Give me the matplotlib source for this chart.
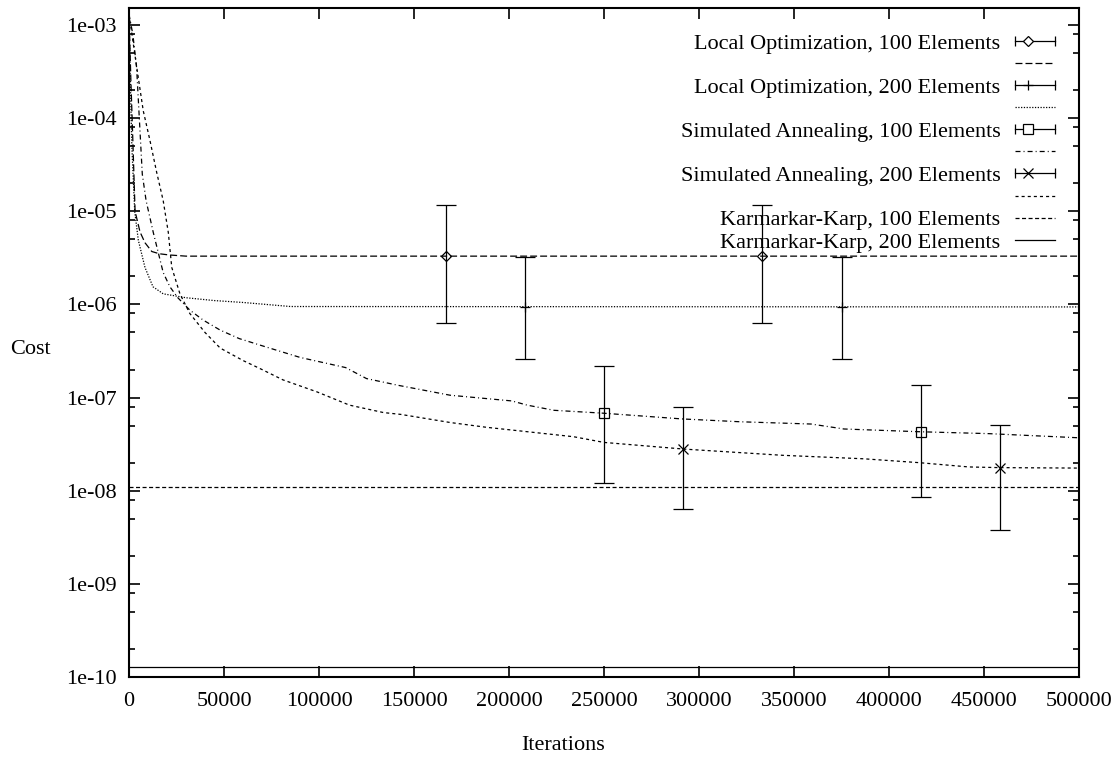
# Costo vs iterazioni (stile gnuplot), scala log sull'asse y
import matplotlib
matplotlib.use("Agg")
import matplotlib.pyplot as plt
from matplotlib.lines import Line2D
from matplotlib.legend_handler import HandlerBase
from matplotlib.ticker import LogLocator, FuncFormatter, NullFormatter

plt.rcParams['font.family'] = ['Liberation Serif', 'DejaVu Serif']
plt.rcParams['font.size'] = 16
plt.rcParams['lines.scale_dashes'] = False

# --- dati ---
lo100_it = [0, 1000, 1800, 3200, 5800, 8400, 12000, 16000, 21000, 30000, 500000]
lo100_cost = [1.3e-3, 2.5e-4, 8e-5, 1.0e-5, 6.0e-6, 4.6e-6, 3.7e-6, 3.5e-6, 3.4e-6, 3.3e-6, 3.3e-6]

lo200_it = [0, 600, 1500, 3000, 4900, 8400, 12600, 18000, 30000, 45000, 60000, 85000, 500000]
lo200_cost = [1.3e-3, 3e-4, 5e-5, 1e-5, 4.9e-6, 2.5e-6, 1.55e-6, 1.3e-6, 1.18e-6, 1.1e-6,
              1.05e-6, 9.5e-7, 9.4e-7]

sa100_it = [0, 2000, 4000, 7000, 9000, 12800, 18000, 21500, 25700, 32000, 39000, 48000,
            58000, 72000, 90000, 114000, 125000, 142000, 169000, 201600, 209500, 223700,
            249500, 291000, 321600, 359000, 376300, 415800, 452600, 500000]
sa100_cost = [1.3e-3, 8e-4, 3.5e-4, 2.5e-5, 1.3e-5, 5.9e-6, 2.2e-6, 1.55e-6, 1.18e-6, 8.7e-7,
              6.8e-7, 5.3e-7, 4.3e-7, 3.5e-7, 2.7e-7, 2.1e-7, 1.6e-7, 1.35e-7, 1.06e-7,
              9.2e-8, 8.3e-8, 7.3e-8, 6.8e-8, 5.9e-8, 5.5e-8, 5.2e-8, 4.6e-8, 4.3e-8,
              4.1e-8, 3.7e-8]

sa200_it = [0, 4000, 7500, 11000, 14600, 18000, 20700, 22500, 26800, 32000, 40000, 48000,
            60000, 70000, 81000, 99000, 116000, 134000, 143000, 169000, 188000, 234000,
            250000, 292000, 344000, 387000, 416000, 442000, 458000, 500000]
sa200_cost = [1.3e-3, 3.6e-4, 1.2e-4, 5.8e-5, 2.6e-5, 1.3e-5, 5.9e-6, 2.5e-6, 1.3e-6, 8e-7,
              5e-7, 3.4e-7, 2.5e-7, 2.0e-7, 1.55e-7, 1.15e-7, 8.3e-8, 6.9e-8, 6.6e-8,
              5.4e-8, 4.8e-8, 3.8e-8, 3.3e-8, 2.8e-8, 2.4e-8, 2.2e-8, 2.0e-8, 1.8e-8,
              1.77e-8, 1.75e-8]

kk_it = [0, 500000]
kk100_cost = [1.1e-8, 1.1e-8]
kk200_cost = [1.28e-10, 1.28e-10]

# barre d'errore (centro, minimo, massimo)
lo100_err_it = [166667, 333333]
lo100_err_c = [3.3e-6, 3.3e-6]
lo100_err_lo = [6.3e-7, 6.3e-7]
lo100_err_hi = [1.17e-5, 1.17e-5]

lo200_err_it = [208333, 375000]
lo200_err_c = [9.4e-7, 9.4e-7]
lo200_err_lo = [2.6e-7, 2.6e-7]
lo200_err_hi = [3.2e-6, 3.2e-6]

sa100_err_it = [250000, 416667]
sa100_err_c = [6.8e-8, 4.3e-8]
sa100_err_lo = [1.2e-8, 8.6e-9]
sa100_err_hi = [2.2e-7, 1.36e-7]

sa200_err_it = [291667, 458333]
sa200_err_c = [2.8e-8, 1.77e-8]
sa200_err_lo = [6.3e-9, 3.77e-9]
sa200_err_hi = [8.0e-8, 5.05e-8]

labels = ["Local Optimization, 100 Elements", "Local Optimization, 200 Elements",
          "Simulated Annealing, 100 Elements", "Simulated Annealing, 200 Elements",
          "Karmarkar-Karp, 100 Elements", "Karmarkar-Karp, 200 Elements"]

LW = 0.9
dash_lo100 = (0, (5.0, 2.2))
dash_lo200 = (0, (0.9, 1.1))
dash_sa100 = (0, (3.6, 2.2, 0.7, 2.2))
dash_sa200 = (0, (2.2, 2.2))
dash_kk100 = (0, (2.9, 1.8))


class ErrKey(Line2D):
    """Proxy per la voce di legenda con barra d'errore orizzontale."""
    pass


class HandlerErrKey(HandlerBase):
    def create_artists(self, legend, orig_handle, xdescent, ydescent,
                       width, height, fontsize, trans):
        y = height / 2 - ydescent
        x0, x1 = -xdescent, width - xdescent
        line = Line2D([x0, x1], [y, y], color='black', lw=LW)
        caps = Line2D([x0, x1], [y, y], ls='none', marker='|', ms=7,
                      mew=LW, color='black')
        pt = Line2D([x0 + 0.33 * width], [y], ls='none',
                    marker=orig_handle.get_marker(), ms=orig_handle.get_markersize(),
                    mfc='white', mec='black', mew=LW)
        for a in (line, caps, pt):
            a.set_transform(trans)
        return [line, caps, pt]


fig = plt.figure(figsize=(11.16, 7.57), dpi=100)
ax = fig.add_axes([129 / 1116, 80 / 757, 950 / 1116, 669 / 757])


def errbars(it, c, lo, hi, marker, ms):
    yerr = [[ci - l for ci, l in zip(c, lo)], [h - ci for ci, h in zip(c, hi)]]
    ax.errorbar(it, c, yerr=yerr, fmt=marker, ms=ms, mfc='none', mec='black',
                mew=LW, ecolor='black', elinewidth=LW, capsize=7, capthick=LW, zorder=3)


errbars(lo100_err_it, lo100_err_c, lo100_err_lo, lo100_err_hi, 'D', 5)
ax.plot(lo100_it, lo100_cost, color='black', lw=LW, ls=dash_lo100)
errbars(lo200_err_it, lo200_err_c, lo200_err_lo, lo200_err_hi, '+', 7)
ax.plot(lo200_it, lo200_cost, color='black', lw=LW, ls=dash_lo200)
errbars(sa100_err_it, sa100_err_c, sa100_err_lo, sa100_err_hi, 's', 6.5)
ax.plot(sa100_it, sa100_cost, color='black', lw=LW, ls=dash_sa100)
errbars(sa200_err_it, sa200_err_c, sa200_err_lo, sa200_err_hi, 'x', 7)
ax.plot(sa200_it, sa200_cost, color='black', lw=LW, ls=dash_sa200)
ax.plot(kk_it, kk100_cost, color='black', lw=LW, ls=dash_kk100)
ax.plot(kk_it, kk200_cost, color='black', lw=LW, ls='-')

ax.set_yscale('log')
ax.set_xlim(0, 500000)
ax.set_ylim(1e-10, 1.523e-3)

# assi stile gnuplot
for sp in ax.spines.values():
    sp.set_linewidth(1.5)
ax.set_xticks(range(0, 500001, 50000))
ax.xaxis.set_major_formatter(FuncFormatter(lambda v, p: f"{int(v)}"))
ax.yaxis.set_major_locator(LogLocator(base=10, numticks=20))
ax.yaxis.set_minor_locator(LogLocator(base=10, subs=(2.0, 5.0, 8.0), numticks=20))
ax.yaxis.set_major_formatter(FuncFormatter(lambda v, p: f"{v:.0e}"))
ax.yaxis.set_minor_formatter(NullFormatter())
ax.tick_params(which='both', direction='in', top=True, right=True, width=1.2)
ax.tick_params(which='major', length=8, labelsize=16)
ax.tick_params(axis='x', which='major', pad=11)
ax.tick_params(axis='y', which='major', pad=9)
ax.tick_params(which='minor', length=4)

fig.text(30 / 1116, 1 - 350 / 757, "Cost", ha='center', va='center', fontsize=16)
fig.text(563 / 1116, 1 - 745 / 757, "Iterations", ha='center', va='center', fontsize=16)

# legenda: testo allineato a destra, campione a destra
handles = [
    ErrKey([], [], marker='D', markersize=5), Line2D([], [], color='black', lw=LW, ls=dash_lo100),
    ErrKey([], [], marker='+', markersize=7), Line2D([], [], color='black', lw=LW, ls=dash_lo200),
    ErrKey([], [], marker='s', markersize=6.5), Line2D([], [], color='black', lw=LW, ls=dash_sa100),
    ErrKey([], [], marker='x', markersize=7), Line2D([], [], color='black', lw=LW, ls=dash_sa200),
    Line2D([], [], color='black', lw=LW, ls=dash_kk100),
    Line2D([], [], color='black', lw=LW, ls='-'),
]
leg_labels = [labels[0], "", labels[1], "", labels[2], "", labels[3], "", labels[4], labels[5]]
ax.legend(handles, leg_labels, handler_map={ErrKey: HandlerErrKey()},
          loc='upper right', bbox_to_anchor=(926 / 950, (677 - 33) / 669),
          markerfirst=False, frameon=False, borderpad=0, borderaxespad=0,
          handlelength=1.8, handletextpad=0.65, labelspacing=0.07, fontsize=16)

fig.savefig("out.png", dpi=100)
